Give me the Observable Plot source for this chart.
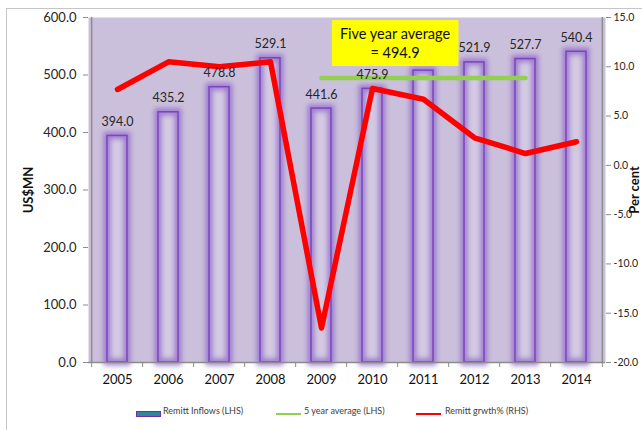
<!DOCTYPE html>
<html>
<head>
<meta charset="utf-8">
<script src="https://cdn.jsdelivr.net/npm/d3@7"></script>
<script src="https://cdn.jsdelivr.net/npm/@observablehq/plot@0.6"></script>
<style>
  body { margin: 0; background: #fff; font-family: Lato, "DejaVu Sans", sans-serif; }
  #wrap { position: absolute; left: 6px; top: 8px; width: 640px; height: 424px;
          border-left: 1.5px solid #c6c6c6; border-top: 1.5px solid #c6c6c6; }
  #chart { position: absolute; left: 0.5px; top: 0.5px; }
  .leg { position: absolute; top: 397px; font-size: 9px; color: #404040; line-height: 10px; white-space: nowrap; }
  .sw { position: absolute; top: 402px; }
</style>
</head>
<body>
<div id="wrap">
  <div id="chart"></div>
  <div class="sw" style="left:129px; width:23px; height:4px; background:#31859c; border:1px solid #7030a0;"></div>
  <div class="leg" style="left:156px;">Remitt Inflows (LHS)</div>
  <div class="sw" style="left:269px; width:25px; height:2px; top:404px; background:#92d050;"></div>
  <div class="leg" style="left:297px;">5 year average (LHS)</div>
  <div class="sw" style="left:409px; width:25px; height:2px; top:404px; background:#ff0000;"></div>
  <div class="leg" style="left:438px;">Remitt grwth% (RHS)</div>
</div>
<script>
const years = [2005, 2006, 2007, 2008, 2009, 2010, 2011, 2012, 2013, 2014];
const inflows = [394.0, 435.2, 478.8, 529.1, 441.6, 475.9, 507.6, 521.9, 527.7, 540.4];
const growth = [7.7, 10.5, 10.0, 10.5, -16.5, 7.8, 6.7, 2.8, 1.2, 2.4];
const avgYears = [2009, 2013];
const avgValue = 494.9;
const leftTicks = [0, 100, 200, 300, 400, 500, 600];
const rightTicks = [-20, -15, -10, -5, 0, 5, 10, 15];
const hiddenLabelYears = [2011]; // covered by the note box in the original
const noteText = "Five year average\n= 494.9";

const leftDomain = [0, 600];
const rightDomain = [-20, 15];
const toL = p => (p - rightDomain[0]) / (rightDomain[1] - rightDomain[0]) * (leftDomain[1] - leftDomain[0]) + leftDomain[0];
const fromL = v => (v - leftDomain[0]) / (leftDomain[1] - leftDomain[0]) * (rightDomain[1] - rightDomain[0]) + rightDomain[0];

const data = years.map((year, i) => ({year, inflow: inflows[i], growth: growth[i]}));
const labelData = data.filter(d => !hiddenLabelYears.includes(d.year));
const avgData = avgYears.map(year => ({year, v: avgValue}));

const W = 634, H = 385, mL = 80, mR = 37, mT = 7, mB = 33;
const step = (W - mL - mR) / years.length;
const font = "Lato, 'DejaVu Sans', sans-serif";

const chart = Plot.plot({
  width: W, height: H,
  marginLeft: mL, marginRight: mR, marginTop: mT, marginBottom: mB,
  style: {fontFamily: font, background: "transparent", overflow: "visible"},
  x: {type: "band", domain: years, paddingInner: 0.6, paddingOuter: 0.3},
  y: {domain: leftDomain},
  marks: [
    Plot.frame({fill: "#cbc0db", stroke: null}),
    Plot.barY(data, {x: "year", y: "inflow", fill: "#d3cae2"}),
    Plot.barY(data, {x: "year", y: "inflow", fill: "none", stroke: "#9470cc", strokeWidth: 7}),
    Plot.barY(data, {x: "year", y: "inflow", fill: "none", stroke: "#7a45bf", strokeWidth: 1.5}),
    Plot.ruleY([0], {stroke: "#8c8c8c", strokeWidth: 1.5}),
    Plot.ruleX([years[0]], {dx: -step / 2, stroke: "#8c8c8c", strokeWidth: 1.5}),
    Plot.ruleX([years[years.length - 1]], {dx: step / 2, stroke: "#8c8c8c", strokeWidth: 1.5}),
    Plot.axisY({anchor: "left", ticks: leftTicks, tickFormat: d => d.toFixed(1), tickSize: 5, tickPadding: 7,
      fontSize: 13, label: null, stroke: "#8c8c8c", fill: "#262626"}),
    Plot.axisY({anchor: "right", ticks: rightTicks.map(toL), tickFormat: d => fromL(d).toFixed(1), tickSize: 5, tickPadding: 3,
      fontSize: 10.5, label: null, stroke: "#8c8c8c", fill: "#262626"}),
    Plot.axisX({ticks: years, tickFormat: d => String(d), tickSize: 0, tickPadding: 12, fontSize: 13, label: null, fill: "#111"}),
    Plot.axisX({ticks: years, tickFormat: () => "", tickSize: 5, dx: -step / 2, label: null, stroke: "#8c8c8c"}),
    Plot.axisX({ticks: [years[years.length - 1]], tickFormat: () => "", tickSize: 5, dx: step / 2, label: null, stroke: "#8c8c8c"}),
    Plot.lineY(avgData, {x: "year", y: "v", stroke: "#92d050", strokeWidth: 4.5}),
    Plot.lineY(data, {x: "year", y: d => toL(d.growth), stroke: "#ff0000", strokeWidth: 5.5, strokeLinejoin: "round"}),
    Plot.text(labelData, {x: "year", y: "inflow", text: d => d.inflow.toFixed(1), dy: -14, fontSize: 12.5, fill: "#262626"}),
    Plot.text(["US$MN"], {frameAnchor: "left", dx: -60, rotate: -90, textAnchor: "middle", fontWeight: "bold", fontSize: 13, fill: "#111"}),
    Plot.text(["Per cent"], {frameAnchor: "right", dx: 29, rotate: -90, textAnchor: "middle", fontWeight: "bold", fontSize: 13, fill: "#111"}),
    Plot.text([noteText], {frameAnchor: "top", dx: 48, dy: 25, lineAnchor: "middle", lineHeight: 1.3, fontSize: 14.5, fill: "#111"})
  ]
});
document.getElementById("chart").appendChild(chart);

// glow effect on bars (second bar mark)
const svg = d3.select(chart);
const defs = svg.insert("defs", ":first-child");
defs.append("filter").attr("id", "glowf").attr("x", "-50%").attr("y", "-50%").attr("width", "200%").attr("height", "200%")
  .append("feGaussianBlur").attr("stdDeviation", 2.6);
const barGroups = chart.querySelectorAll('g[aria-label="bar"]');
if (barGroups[1]) d3.select(barGroups[1]).attr("filter", "url(#glowf)").attr("opacity", 0.85);

// yellow box behind the note (last text mark)
const textGroups = chart.querySelectorAll('g[aria-label="text"]');
const noteG = textGroups[textGroups.length - 1];
if (noteG) {
  const bb = noteG.getBBox();
  d3.select(noteG).insert("rect", ":first-child")
    .attr("x", bb.x - 8).attr("y", bb.y - 5).attr("width", bb.width + 16).attr("height", bb.height + 10)
    .attr("fill", "#ffff00").attr("stroke", "none");
}
</script>
</body>
</html>
